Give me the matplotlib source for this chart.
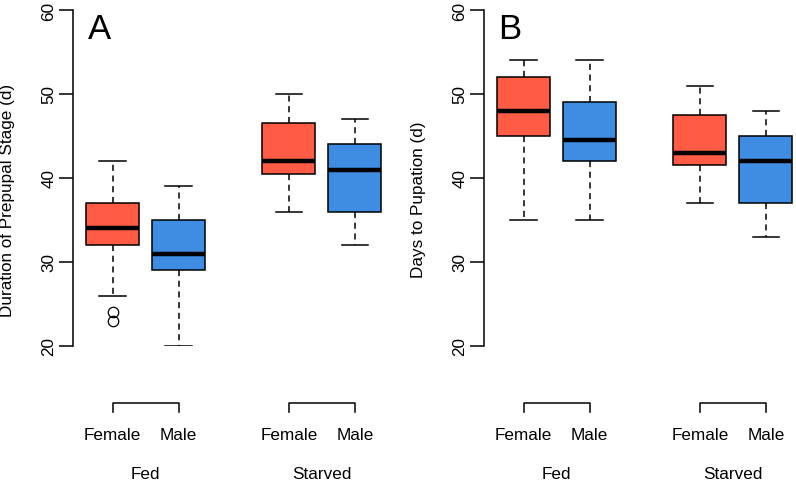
import numpy as np
import matplotlib.pyplot as plt

plt.rcParams['font.family'] = ['Liberation Sans', 'DejaVu Sans']

# box stats: whislo, q1, med, q3, whishi
groups = ['Fed', 'Starved']
sexes = ['Female', 'Male']
positions = [1, 2, 3.67, 4.67]

prepupal_lo = [26, 20, 36, 32]
prepupal_q1 = [32, 29, 40.5, 36]
prepupal_med = [34, 31, 42, 41]
prepupal_q3 = [37, 35, 46.5, 44]
prepupal_hi = [42, 39, 50, 47]
prepupal_fliers = [[24, 23], [], [], []]

pupation_lo = [35, 35, 37, 33]
pupation_q1 = [45, 42, 41.5, 37]
pupation_med = [48, 44.5, 43, 42]
pupation_q3 = [52, 49, 47.5, 45]
pupation_hi = [54, 54, 51, 48]
pupation_fliers = [[], [], [], []]

colors = ['#FF5B45', '#3E8DE3', '#FF5B45', '#3E8DE3']


def panel(ax, lo, q1, med, q3, hi, fliers, ylabel, letter):
    stats = []
    for i in range(4):
        stats.append(dict(whislo=lo[i], q1=q1[i], med=med[i], q3=q3[i],
                          whishi=hi[i], fliers=fliers[i]))
    bp = ax.bxp(stats, positions=positions, widths=0.8, patch_artist=True,
                boxprops=dict(linewidth=1.1, edgecolor='black'),
                medianprops=dict(color='black', linewidth=3.2, solid_capstyle='butt'),
                whiskerprops=dict(linestyle=(0, (4, 3)), linewidth=1.1),
                capprops=dict(linewidth=1.1),
                capwidths=0.4,
                flierprops=dict(marker='o', markerfacecolor='none',
                                markeredgecolor='black', markersize=7.5,
                                markeredgewidth=0.9))
    for patch, c in zip(bp['boxes'], colors):
        patch.set_facecolor(c)

    ax.set_xlim(0.4, 5.2)
    ax.set_ylim(20, 60)
    ax.set_yticks([20, 30, 40, 50, 60])
    ax.set_yticklabels(['20', '30', '40', '50', '60'], rotation=90, va='center')
    ax.tick_params(axis='y', length=10, width=1.1, labelsize=12.3, pad=2)
    ax.set_xticks([])
    for s in ['top', 'right', 'bottom']:
        ax.spines[s].set_visible(False)
    ax.spines['left'].set_linewidth(1.1)
    ax.set_ylabel(ylabel, fontsize=12.3)

    # group brackets and labels below the axis
    for g in range(2):
        a, b = positions[2 * g], positions[2 * g + 1]
        ax.plot([a, a, b, b], [12.1, 13.2, 13.2, 12.1], color='black',
                linewidth=1.1, clip_on=False)
        for k in range(2):
            ax.text(positions[2 * g + k], 9.5, sexes[k], ha='center',
                    va='center', fontsize=12.3)
        ax.text((a + b) / 2, 4.8, groups[g], ha='center', va='center',
                fontsize=12.3)
    ax.text(0.62, 59.8, letter, fontsize=25, ha='left', va='top')


fig = plt.figure(figsize=(7.96, 4.81), dpi=100)
bottom = (481 - 347) / 481
height = 336 / 481
width = 4.8 * 66 / 796
ax1 = fig.add_axes([73 / 796, bottom, width, height])
ax2 = fig.add_axes([484 / 796, bottom, width, height])

panel(ax1, prepupal_lo, prepupal_q1, prepupal_med, prepupal_q3, prepupal_hi,
      prepupal_fliers, 'Duration of Prepupal Stage (d)', 'A')
panel(ax2, pupation_lo, pupation_q1, pupation_med, pupation_q3, pupation_hi,
      pupation_fliers, 'Days to Pupation (d)', 'B')

# y label is centred a little below the axis middle in the reference
for ax in (ax1, ax2):
    ax.yaxis.set_label_coords(-58 / (4.8 * 66), (347 - 200) / 336)

fig.savefig('out.png', dpi=100)
